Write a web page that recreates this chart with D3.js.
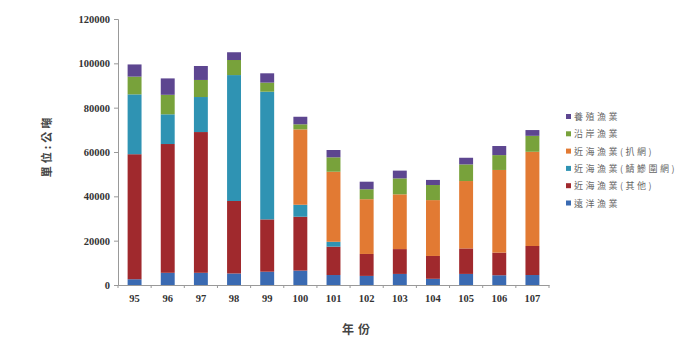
<!DOCTYPE html>
<html>
<head>
<meta charset="utf-8">
<script src="https://cdn.jsdelivr.net/npm/d3@7"></script>
<style>
  body { margin: 0; background: #fff; }
  svg text { font-family: "Liberation Serif", "DejaVu Serif", serif; }
  .cjk { font-family: "Noto Sans CJK TC", sans-serif; }
</style>
</head>
<body>
<div id="chart"></div>
<script>
const years = ['95', '96', '97', '98', '99', '100', '101', '102', '103', '104', '105', '106', '107'];
// stacked segments (公噸), bottom to top
const distant = [2600, 5500, 5500, 5200, 6000, 6500, 4500, 4100, 5000, 2800, 5000, 4400, 4500];
const offshoreOther = [56400, 58100, 63500, 32700, 23600, 24300, 12800, 9900, 11200, 10300, 11500, 10200, 13100];
const offshoreSeine = [27000, 13400, 15800, 56800, 57600, 5400, 2200, 0, 0, 0, 0, 0, 0];
const offshoreTrawl = [0, 0, 0, 0, 0, 34000, 31600, 24700, 24700, 25200, 30400, 37300, 42500];
const coastal = [8000, 8800, 7700, 6800, 4100, 2300, 6500, 4500, 7200, 6800, 7500, 6700, 7200];
const aquaculture = [5500, 7400, 6300, 3500, 4200, 3400, 3300, 3400, 3500, 2300, 3000, 4100, 2600];

const seriesNames = ['遠洋漁業', '近海漁業(其他)', '近海漁業(鯖鰺圍網)', '近海漁業(扒網)', '沿岸漁業', '養殖漁業'];
const seriesColors = ['#3a6ab2', '#a0292d', '#2f93b3', '#e27a33', '#78a23b', '#5d4690'];
const yTicks = [0, 20000, 40000, 60000, 80000, 100000, 120000];

const W = 700, H = 348;
const margin = { left: 118, right: 151, top: 19, bottom: 63 };

const rows = years.map((y, i) => ({
  year: y,
  s0: distant[i], s1: offshoreOther[i], s2: offshoreSeine[i],
  s3: offshoreTrawl[i], s4: coastal[i], s5: aquaculture[i]
}));
const keys = ['s0', 's1', 's2', 's3', 's4', 's5'];
const stacked = d3.stack().keys(keys)(rows);

const svg = d3.select('#chart').append('svg').attr('width', W).attr('height', H);

const x = d3.scaleBand().domain(years).range([margin.left, W - margin.right]).paddingInner(0.58).paddingOuter(0.29);
const y = d3.scaleLinear().domain([0, 120000]).range([H - margin.bottom, margin.top]);

// bars
svg.selectAll('g.layer')
  .data(stacked)
  .join('g')
  .attr('class', 'layer')
  .attr('fill', (d, i) => seriesColors[i])
  .selectAll('rect')
  .data((d) => d)
  .join('rect')
  .attr('x', (d) => x(d.data.year))
  .attr('width', x.bandwidth())
  .attr('y', (d) => y(d[1]))
  .attr('height', (d) => y(d[0]) - y(d[1]));

// y axis
const yAxis = svg.append('g')
  .attr('transform', `translate(${margin.left},0)`)
  .call(d3.axisLeft(y).tickValues(yTicks).tickSize(4).tickPadding(4).tickFormat(d3.format('d')));
yAxis.select('.domain').attr('stroke', '#999');
yAxis.selectAll('.tick line').attr('stroke', '#999');
yAxis.selectAll('.tick text')
  .attr('font-size', 10.5).attr('font-weight', 'bold').attr('fill', '#333')
  .style('font-family', '"Liberation Serif", serif');

// x axis
const xAxis = svg.append('g')
  .attr('transform', `translate(0,${H - margin.bottom})`)
  .call(d3.axisBottom(x).tickSize(0).tickPadding(10));
xAxis.select('.domain').attr('stroke', '#999');
xAxis.selectAll('.tick text')
  .attr('font-size', 10.5).attr('font-weight', 'bold').attr('fill', '#333')
  .style('font-family', '"Liberation Serif", serif');
// small ticks between categories
const step = x.step();
svg.append('g')
  .selectAll('line')
  .data(d3.range(years.length + 1))
  .join('line')
  .attr('x1', (i) => margin.left + i * step)
  .attr('x2', (i) => margin.left + i * step)
  .attr('y1', H - margin.bottom)
  .attr('y2', H - margin.bottom + 3)
  .attr('stroke', '#999');

// axis titles
svg.append('text')
  .attr('class', 'cjk')
  .attr('x', 358).attr('y', 334)
  .attr('text-anchor', 'middle')
  .attr('font-size', 12).attr('font-weight', 'bold').attr('fill', '#444')
  .attr('letter-spacing', 4)
  .text('年份');

svg.append('text')
  .attr('class', 'cjk')
  .attr('transform', 'translate(51,146) rotate(-90)')
  .attr('text-anchor', 'middle')
  .attr('font-size', 11).attr('font-weight', 'bold').attr('fill', '#444')
  .attr('letter-spacing', 3)
  .text('單位:公噸');

// legend (top item = last series)
const legendOrder = d3.range(seriesNames.length).reverse();
const legend = svg.append('g').attr('transform', 'translate(566,117)');
const li = legend.selectAll('g')
  .data(legendOrder)
  .join('g')
  .attr('transform', (d, i) => `translate(0,${i * 17.3})`);
li.append('rect')
  .attr('x', 0).attr('y', -3).attr('width', 5).attr('height', 5)
  .attr('fill', (d) => seriesColors[d]);
li.append('text')
  .attr('class', 'cjk')
  .attr('x', 8).attr('y', 0).attr('dy', '0.35em')
  .attr('font-size', 9).attr('fill', '#666')
  .attr('letter-spacing', 2.5)
  .text((d) => seriesNames[d]);
</script>
</body>
</html>
